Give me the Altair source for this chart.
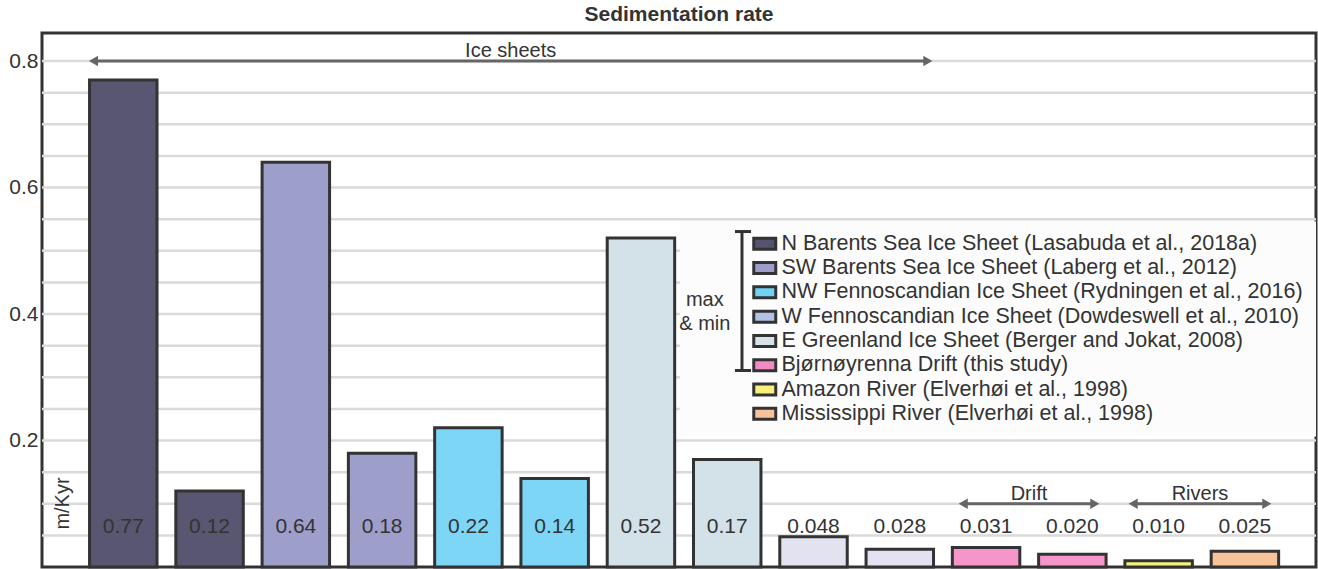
import altair as alt
import pandas as pd

# ---- data -------------------------------------------------------------
rate_values = [0.77, 0.12, 0.64, 0.18, 0.22, 0.14, 0.52, 0.17,
               0.048, 0.028, 0.031, 0.020, 0.010, 0.025]
rate_labels = ["0.77", "0.12", "0.64", "0.18", "0.22", "0.14", "0.52", "0.17",
               "0.048", "0.028", "0.031", "0.020", "0.010", "0.025"]
bar_colors = ["#595671", "#595671", "#9e9ecb", "#9e9ecb", "#7dd6f5", "#7dd6f5",
              "#d3e2e9", "#d3e2e9", "#e2e2f0", "#e2e2f0", "#f595c9", "#f595c9",
              "#f7f27c", "#f8c398"]

legend_entries = [
    "N Barents Sea Ice Sheet (Lasabuda et al., 2018a)",
    "SW Barents Sea Ice Sheet (Laberg et al., 2012)",
    "NW Fennoscandian Ice Sheet (Rydningen et al., 2016)",
    "W Fennoscandian Ice Sheet (Dowdeswell et al., 2010)",
    "E Greenland Ice Sheet (Berger and Jokat, 2008)",
    "Bjørnøyrenna Drift (this study)",
    "Amazon River (Elverhøi et al., 1998)",
    "Mississippi River (Elverhøi et al., 1998)",
]
legend_colors = ["#56536f", "#9d9dcc", "#71d3f3", "#b2c2e4",
                 "#d5e3e9", "#f08bc3", "#f7f07a", "#f7c199"]

# group arrows, spanning bar positions (bar index units)
arrow_names = ["Ice sheets", "Drift", "Rivers"]
arrow_start = [-0.405, 9.675, 11.645]
arrow_end = [9.385, 11.32, 13.314]
arrow_level = [0.8, 0.1, 0.1]

y_tick_values = [0.2, 0.4, 0.6, 0.8]
grid_levels = [round(0.05 * k, 2) for k in range(1, 17)]

# ---- layout constants -------------------------------------------------
FONT = "Liberation Sans"
INK = "#333333"
X_DOMAIN = [-0.942, 13.824]
Y_DOMAIN = [0, 0.8443]
HALF_BAR = 0.391
LABEL_Y = 0.053
TIP = 0.06

bars = pd.DataFrame({
    "pos": list(range(len(rate_values))),
    "rate": rate_values,
    "label": rate_labels,
    "fill": bar_colors,
})
bars["left"] = bars["pos"] - HALF_BAR
bars["right"] = bars["pos"] + HALF_BAR

arrows = pd.DataFrame({
    "name": arrow_names, "start": arrow_start, "end": arrow_end, "level": arrow_level,
})
arrows["mid"] = (arrows["start"] + arrows["end"]) / 2
arrows["start_in"] = arrows["start"] + TIP
arrows["end_in"] = arrows["end"] - TIP

xs = alt.Scale(domain=X_DOMAIN, nice=False, zero=False)
ys = alt.Scale(domain=Y_DOMAIN, nice=False, zero=True)

# horizontal gridlines, also carrying the y axis labels
grid = alt.Chart(pd.DataFrame({"level": grid_levels})).mark_rule(
    color="#dadada", strokeWidth=2.5
).encode(
    y=alt.Y("level:Q", scale=ys, axis=alt.Axis(
        values=y_tick_values, format=".1f", title=None, ticks=False, domain=False,
        grid=False, labelFont=FONT, labelFontSize=21, labelColor=INK, labelPadding=4,
    )),
)

# legend panel background
panel = alt.Chart(pd.DataFrame({"x0": [6.452], "x1": [13.824], "y0": [0.2063], "y1": [0.5462]})).mark_rect(
    color="#fcfcfc"
).encode(
    x=alt.X("x0:Q", scale=xs, axis=None), x2="x1:Q",
    y=alt.Y("y0:Q", scale=ys), y2="y1:Q",
)

bar_layer = alt.Chart(bars).mark_rect(stroke=INK, strokeWidth=3).encode(
    x=alt.X("left:Q", scale=xs), x2="right:Q",
    y=alt.Y("rate:Q", scale=ys), y2=alt.Y2(datum=0),
    fill=alt.Fill("fill:N", scale=None),
)

value_text = alt.Chart(bars).mark_text(
    font=FONT, fontSize=21, color=INK, baseline="alphabetic", align="center"
).encode(
    x=alt.X("pos:Q", scale=xs),
    y=alt.Y(datum=LABEL_Y, scale=ys),
    text="label:N",
)

arrow_base = alt.Chart(arrows)
arrow_line = arrow_base.mark_rule(color="#666666", strokeWidth=3).encode(
    x=alt.X("start_in:Q", scale=xs), x2="end_in:Q",
    y=alt.Y("level:Q", scale=ys),
)
arrow_left = arrow_base.mark_point(shape="triangle-left", filled=True, color="#666666",
                                   size=110, opacity=1).encode(
    x=alt.X("start_in:Q", scale=xs), y=alt.Y("level:Q", scale=ys),
)
arrow_right = arrow_base.mark_point(shape="triangle-right", filled=True, color="#666666",
                                    size=110, opacity=1).encode(
    x=alt.X("end_in:Q", scale=xs), y=alt.Y("level:Q", scale=ys),
)
arrow_text = arrow_base.mark_text(
    font=FONT, fontSize=20, color=INK, baseline="alphabetic", dy=-4
).encode(
    x=alt.X("mid:Q", scale=xs), y=alt.Y("level:Q", scale=ys), text="name:N",
)

# y-axis unit label inside the frame
unit_text = alt.Chart(pd.DataFrame({"x": [-0.699], "y": [0.1004], "t": ["m/Kyr"]})).mark_text(
    font=FONT, fontSize=20, color=INK, angle=270, align="center", baseline="middle"
).encode(x=alt.X("x:Q", scale=xs), y=alt.Y("y:Q", scale=ys), text="t:N")

# max & min bracket next to the legend
bracket_x = 7.171
bracket_top, bracket_bottom = 0.5304, 0.3107
bracket_v = alt.Chart(pd.DataFrame({"x": [bracket_x], "y0": [bracket_bottom], "y1": [bracket_top]})).mark_rule(
    color=INK, strokeWidth=3
).encode(x=alt.X("x:Q", scale=xs), y=alt.Y("y0:Q", scale=ys), y2="y1:Q")
bracket_h = alt.Chart(pd.DataFrame({"x0": [7.09, 7.09], "x1": [7.276, 7.276],
                                    "y": [bracket_top, bracket_bottom]})).mark_rule(
    color=INK, strokeWidth=3
).encode(x=alt.X("x0:Q", scale=xs), x2="x1:Q", y=alt.Y("y:Q", scale=ys))
bracket_text = alt.Chart(pd.DataFrame({"x": [6.74, 6.74], "y": [0.4119, 0.3755],
                                       "t": ["max", "& min"]})).mark_text(
    font=FONT, fontSize=20, color=INK, align="center", baseline="alphabetic"
).encode(x=alt.X("x:Q", scale=xs), y=alt.Y("y:Q", scale=ys), text="t:N")

# legend carried by an invisible layer
legend_layer = alt.Chart(pd.DataFrame({"entry": legend_entries})).mark_point(
    shape="square", filled=True, opacity=0
).encode(
    color=alt.Color("entry:N", scale=alt.Scale(domain=legend_entries, range=legend_colors),
                    legend=alt.Legend(
                        title=None, orient="none", legendX=712, legendY=200,
                        labelFont=FONT, labelFontSize=21.5, labelColor=INK, labelLimit=0,
                        symbolType="M-2,-1H2V1H-2Z", symbolSize=121,
                        symbolStrokeColor=INK, symbolStrokeWidth=3, symbolOpacity=1,
                        labelOffset=6, rowPadding=0.3, padding=0,
                    )),
)

chart = alt.layer(
    grid, panel, bar_layer, value_text, arrow_line, arrow_left, arrow_right,
    arrow_text, unit_text, bracket_v, bracket_h, bracket_text, legend_layer,
).properties(
    width=1274, height=534,
    padding={"left": 42, "top": 33, "right": 2, "bottom": 2},
    autosize="none",
    background="white",
    title=alt.TitleParams("Sedimentation rate", font=FONT, fontSize=21, fontWeight="bold",
                          color=INK, anchor="middle", frame="group", baseline="alphabetic",
                          offset=11, dy=20),
).configure_view(
    stroke=INK, strokeWidth=3, fill="white"
)

chart.save("out.html", embed_options={"renderer": "svg", "actions": False})
